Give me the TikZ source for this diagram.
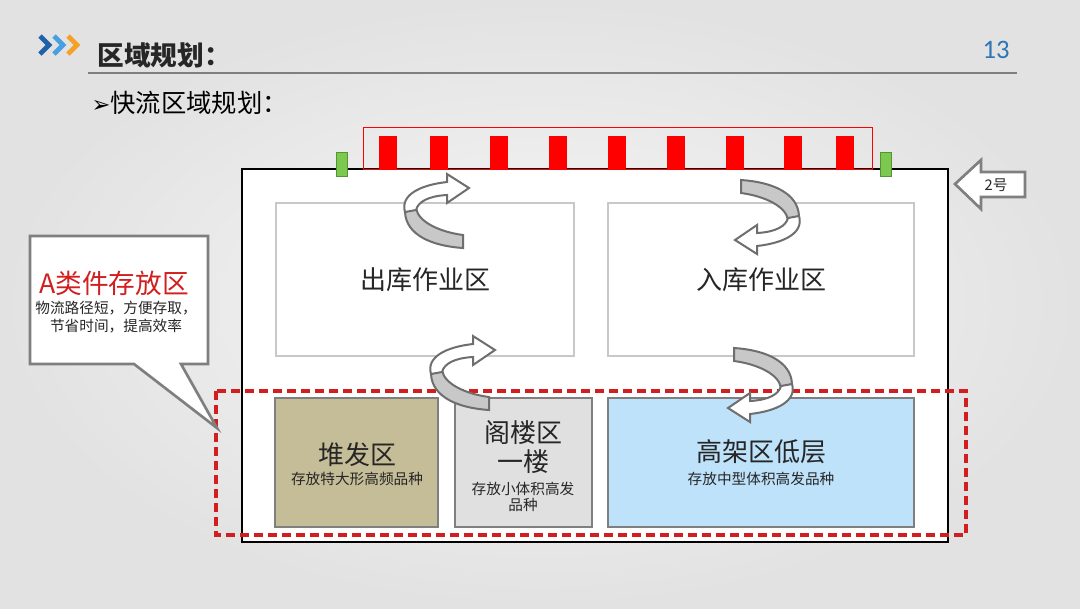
\documentclass[tikz,border=0pt]{standalone}
\usepackage{fontspec}
\setmainfont{Liberation Serif}
\newfontfamily\cjk{Noto Sans CJK SC}
\newfontfamily\symfont{DejaVu Sans}
\newfontfamily\numfont{Carlito}

\definecolor{bginner}{RGB}{247,247,247}
\definecolor{bgouter}{RGB}{226,226,226}
\definecolor{inkgray}{RGB}{38,38,38}
\definecolor{boxline}{RGB}{127,127,127}
\definecolor{paleline}{RGB}{200,200,200}
\definecolor{pilefill}{RGB}{196,189,151}
\definecolor{atticfill}{RGB}{224,224,224}
\definecolor{rackfill}{RGB}{190,226,250}
\definecolor{dockred}{RGB}{255,0,0}
\definecolor{dashred}{RGB}{210,30,30}
\definecolor{doorgreen}{RGB}{126,200,80}
\definecolor{doorline}{RGB}{80,150,50}
\definecolor{titleblue}{RGB}{46,117,182}
\definecolor{chevdark}{RGB}{31,98,170}
\definecolor{chevlight}{RGB}{70,160,225}
\definecolor{chevorange}{RGB}{245,160,40}
\definecolor{bandgray}{RGB}{200,200,200}
\definecolor{arrowgray}{RGB}{110,110,110}

\tikzset{every picture/.style={line width=0.75pt}}
\tikzset{
  zone/.style={draw=paleline, line width=1.5pt, fill=white},
  block/.style={draw=boxline, line width=2pt},
  biglabel/.style={inner sep=0.75pt, text=inkgray, font=\cjk\fontsize{19.5}{21.75}\selectfont, align=center},
  smalllabel/.style={inner sep=0.75pt, text=inkgray, font=\cjk\fontsize{11}{12.5}\selectfont, align=center},
  chev/.style={line width=3.5pt, line join=miter},
  uturn/.pic={
    \begin{scope}[yscale=-1]
    \filldraw[fill=bandgray, draw=arrowgray, line width=1.5pt] (-19,-3) .. controls (-17,11) and (5,21) .. (28,24) -- (28,37) .. controls (-3,35) and (-29,24) .. (-30,1) -- cycle;
    \filldraw[fill=white, draw=arrowgray, line width=1.5pt] (-30,1) .. controls (-35,-16) and (-15,-26) .. (12,-29) -- (12,-37) -- (34,-23) -- (12,-8) -- (12,-16) .. controls (-7,-15) and (-17,-9) .. (-19,-1) -- cycle;
    \end{scope}
  }
}

\begin{document}
\begin{tikzpicture}[x=0.75pt,y=0.75pt,yscale=-1,xscale=1]
\useasboundingbox (0,0) rectangle (1080,608);

% Background
\shade[inner color=bginner, outer color=bgouter] (0,0) rectangle (1080,608);

% Header
\draw[chev, chevdark] (40,36) -- (49,45) -- (40,54);
\draw[chev, chevlight] (54,36) -- (63,45) -- (54,54);
\draw[chev, chevorange] (68,36) -- (77,45) -- (68,54);
\draw (96,55) node [anchor=west][inner sep=0.75pt, text=inkgray, font=\cjk\bfseries\fontsize{20}{24}\selectfont] (title) {区域规划：};
\draw (996,50) node [inner sep=0.75pt, text=titleblue, font=\numfont\fontsize{20}{24}\selectfont] (pagenum) {13};
\draw[color=boxline, line width=1.5pt] (88,73) -- (1017,73);
\draw (90,103) node [anchor=west][inner sep=0.75pt, text=black, font=\cjk\fontsize{19}{22}\selectfont] (subtitle) {{\symfont\fontsize{17}{20}\selectfont ➢}快流区域规划：};

% Warehouse outline
\draw[fill=white, line width=2.2pt] (242,169) rectangle (948,542);

% Dock doors
\draw[color=dockred, line width=0.75pt] (363,127) rectangle (872,169);
\foreach \dx in {387.5,439,498.5,557.5,617,675.5,735,793,845}
  \fill[dockred] (\dx-9,136) rectangle (\dx+9,169);
\filldraw[fill=doorgreen, draw=doorline, line width=0.75pt] (336,152) rectangle (347,176);
\filldraw[fill=doorgreen, draw=doorline, line width=0.75pt] (880,152) rectangle (891,176);

% Upper zones
\draw[zone] (276,203) rectangle (574,356);
\draw (425,280) node [biglabel] (outlabel) {出库作业区};
\draw[zone] (608,203) rectangle (914,356);
\draw (761,280) node [biglabel] (inlabel) {入库作业区};

% Lower zones
\draw[block, fill=pilefill] (275,398) rectangle (438,527);
\draw (357,455) node [biglabel] (pilelabel) {堆发区};
\draw (357,479) node [smalllabel] (pilenote) {存放特大形高频品种};
\draw[block, fill=atticfill] (455,398) rectangle (592,527);
\draw (523,447) node [biglabel] (atticlabel) {阁楼区\\一楼};
\draw (523,497) node [smalllabel] (atticnote) {存放小体积高发\\品种};
\draw[block, fill=rackfill] (608,398) rectangle (914,527);
\draw (761,452) node [biglabel] (racklabel) {高架区低层};
\draw (761,479) node [smalllabel] (racknote) {存放中型体积高发品种};

% A-class area
\draw[color=dashred, line width=2.6pt, dash pattern=on 7pt off 3.5pt] (216,391) rectangle (966,535);

% Turn arrows
\pic at (435,211) {uturn};
\pic[rotate=180] at (769,217) {uturn};
\pic at (461,373) {uturn};
\pic[rotate=180] at (762,385) {uturn};

% Callout
\filldraw[fill=white, draw=boxline, line width=2pt] (30,236) -- (208,236) -- (208,364) -- (181,364) -- (217,428) -- (134,364) -- (30,364) -- cycle;
\draw (114,283) node [inner sep=0.75pt, text=dashred, font=\cjk\fontsize{20}{24}\selectfont] (calloutlabel) {A类件存放区};
\draw (116,317) node [smalllabel, font=\cjk\fontsize{11}{13.5}\selectfont] (calloutnote) {物流路径短，方便存取，\\节省时间，提高效率};

% Gate 2
\filldraw[fill=white, draw=boxline, line width=2pt] (955,184) -- (981,160) -- (981,172) -- (1025,172) -- (1025,197) -- (981,197) -- (981,209) -- cycle;
\draw (996,185) node [inner sep=0.75pt, text=inkgray, font=\cjk\fontsize{11}{13}\selectfont] (gatelabel) {2号};

\end{tikzpicture}
\end{document}
